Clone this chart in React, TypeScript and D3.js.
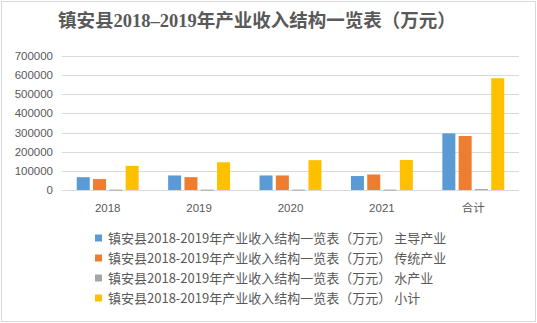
import React from "react";
import * as d3 from "d3";

const categories = ["2018", "2019", "2020", "2021", "合计"];
const seriesNames = [
  "镇安县2018-2019年产业收入结构一览表（万元） 主导产业",
  "镇安县2018-2019年产业收入结构一览表（万元） 传统产业",
  "镇安县2018-2019年产业收入结构一览表（万元） 水产业",
  "镇安县2018-2019年产业收入结构一览表（万元） 小计",
];
const leading = [67000, 76000, 76000, 73000, 296000];
const traditional = [57000, 67000, 76000, 81000, 282000];
const water = [2000, 2000, 2000, 2000, 5000];
const subtotal = [126000, 145000, 156000, 157000, 584000];
const yTicks = [0, 100000, 200000, 300000, 400000, 500000, 600000, 700000];
const colors = ["#5b9bd5", "#ed7d31", "#a5a5a5", "#ffc000"];

const W = 537;
const H = 323;
const left = 62;
const right = 519;
const top = 56;
const bottom = 190;

export default function App() {
  const series = [leading, traditional, water, subtotal];
  const x = d3.scaleBand<string>().domain(categories).range([left, right]).paddingInner(0).paddingOuter(0);
  const y = d3.scaleLinear().domain([0, 700000]).range([bottom, top]);
  const barW = 13;
  const step = 16.3;
  const groupW = step * 3 + barW;
  const sansFont = "'Noto Sans CJK SC', 'Noto Sans', sans-serif";
  return (
    <svg
      width={W}
      height={H}
      style={{ position: "absolute", left: 0, top: 0, background: "#fff" }}
    >
      <rect x={1.5} y={1.5} width={W - 3} height={H - 3} fill="#fff" stroke="#d9d9d9" strokeWidth={1} />
      <text
        x={257}
        y={27}
        textAnchor="middle"
        fontSize={18.5}
        fontWeight="bold"
        fill="#595959"
        fontFamily="'Liberation Serif', 'Noto Sans CJK SC', serif"
      >
        镇安县2018–2019年产业收入结构一览表（万元）
      </text>
      {yTicks.map((t) => (
        <g key={t}>
          <line x1={left} x2={right} y1={Math.round(y(t)) + 0.5} y2={Math.round(y(t)) + 0.5} stroke="#d9d9d9" strokeWidth={1} />
          <text
            x={53}
            y={y(t)}
            dy="0.35em"
            textAnchor="end"
            fontSize={11.5}
            fill="#595959"
            fontFamily="'Liberation Sans', 'Noto Sans', sans-serif"
          >
            {t}
          </text>
        </g>
      ))}
      {categories.map((c, i) => {
        const cx = (x(c) as number) + x.bandwidth() / 2;
        return (
          <g key={c}>
            {series.map((s, k) => {
              const bx = cx - groupW / 2 + k * step;
              const yy = y(s[i]);
              return (
                <rect
                  key={k}
                  x={bx}
                  y={yy}
                  width={barW}
                  height={Math.max(bottom - yy, 1)}
                  fill={colors[k]}
                />
              );
            })}
            <text
              x={cx}
              y={208}
              dy="0.35em"
              textAnchor="middle"
              fontSize={11.5}
              fill="#595959"
              fontFamily={c === "合计" ? sansFont : "'Liberation Sans', sans-serif"}
            >
              {c}
            </text>
          </g>
        );
      })}
      {seriesNames.map((n, k) => (
        <g key={n}>
          <rect x={95} y={234.5 + k * 20} width={7} height={7} fill={colors[k]} />
          <text
            x={108}
            y={238 + k * 20}
            dy="0.35em"
            fontSize={13}
            fill="#595959"
            fontFamily={sansFont}
          >
            {n}
          </text>
        </g>
      ))}
    </svg>
  );
}
